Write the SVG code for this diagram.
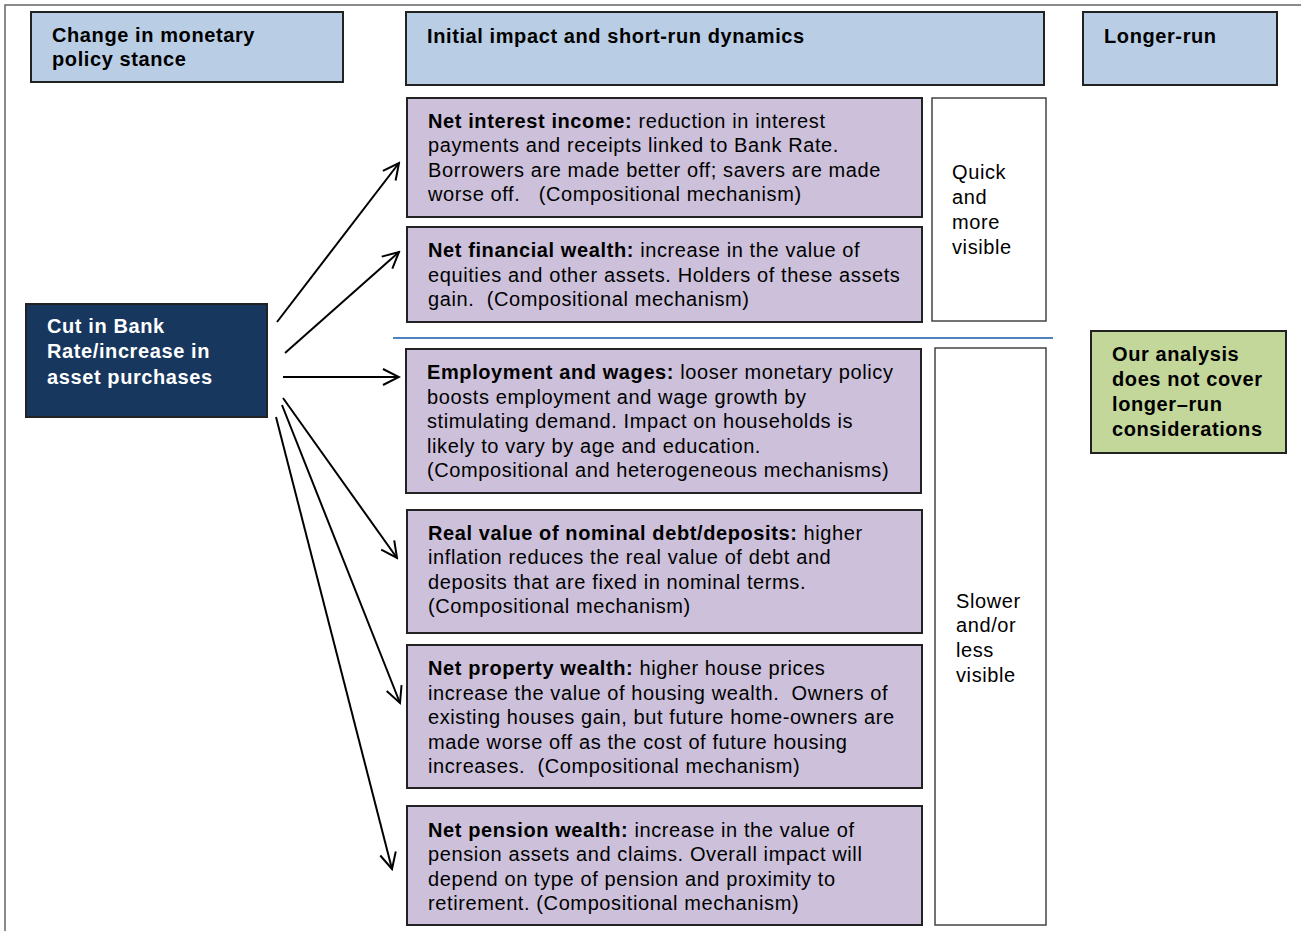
<svg xmlns="http://www.w3.org/2000/svg" width="1301" height="931" viewBox="0 0 1301 931">
<defs>
<style>
.t{font-family:"Liberation Sans",Arial,sans-serif;font-size:20px;letter-spacing:0.6px;fill:#000;white-space:pre}
.b{font-weight:bold}
.w{fill:#fff}
.hdr{fill:#b9cde5;stroke:#222;stroke-width:2}
.pur{fill:#ccc0da;stroke:#222;stroke-width:2}
.wht{fill:#fff;stroke:#444;stroke-width:1.5}
.con line{stroke:#000;stroke-width:2;fill:none;marker-end:url(#ah)}
</style>
<marker id="ah" viewBox="0 0 20 20" refX="18" refY="10" markerWidth="20" markerHeight="20" markerUnits="userSpaceOnUse" orient="auto">
<path d="M2,2 L18,10 L2,18" fill="none" stroke="#000" stroke-width="2"/>
</marker>
</defs>
<rect width="1301" height="931" fill="#fff"/>
<path d="M5,931 V5 H1301" fill="none" stroke="#666" stroke-width="1.5"/>

<g id="hdr-change"><rect class="hdr" x="31" y="12" width="312" height="70"/>
<text class="t b" x="52" y="42">Change in monetary</text><text class="t b" x="52" y="66">policy stance</text></g>
<g id="hdr-initial"><rect class="hdr" x="406" y="12" width="638" height="73"/>
<text class="t b" x="427" y="43">Initial impact and short-run dynamics</text></g>
<g id="hdr-longer"><rect class="hdr" x="1083" y="12" width="194" height="73"/>
<text class="t b" x="1104" y="43">Longer-run</text></g>

<g id="cut"><rect x="26" y="304" width="241" height="113" fill="#17375e" stroke="#222" stroke-width="2"/>
<text class="t b w" x="47" y="333">Cut in Bank</text>
<text class="t b w" x="47" y="358">Rate/increase in</text>
<text class="t b w" x="47" y="384">asset purchases</text></g>

<g id="nii"><rect class="pur" x="407" y="98" width="515" height="119"/>
<text class="t" x="428" y="128"><tspan class="b">Net interest income:</tspan> reduction in interest</text>
<text class="t" x="428" y="152">payments and receipts linked to Bank Rate.</text>
<text class="t" x="428" y="177">Borrowers are made better off; savers are made</text>
<text class="t" x="428" y="201">worse off.   (Compositional mechanism)</text></g>

<g id="nfw"><rect class="pur" x="407" y="227" width="515" height="95"/>
<text class="t" x="428" y="257"><tspan class="b">Net financial wealth:</tspan> increase in the value of</text>
<text class="t" x="428" y="282">equities and other assets. Holders of these assets</text>
<text class="t" x="428" y="306">gain.  (Compositional mechanism)</text></g>

<g id="quick"><rect class="wht" x="932" y="98" width="114" height="223"/>
<text class="t" x="952" y="179">Quick</text><text class="t" x="952" y="204">and</text>
<text class="t" x="952" y="229">more</text><text class="t" x="952" y="254">visible</text></g>

<line id="divider" x1="393" y1="338" x2="1053" y2="338" stroke="#4f81bd" stroke-width="2"/>

<g id="emp"><rect class="pur" x="406" y="349" width="515" height="144"/>
<text class="t" x="427" y="379"><tspan class="b">Employment and wages:</tspan> looser monetary policy</text>
<text class="t" x="427" y="404">boosts employment and wage growth by</text>
<text class="t" x="427" y="428">stimulating demand. Impact on households is</text>
<text class="t" x="427" y="453">likely to vary by age and education.</text>
<text class="t" x="427" y="477">(Compositional and heterogeneous mechanisms)</text></g>

<g id="real"><rect class="pur" x="407" y="510" width="515" height="123"/>
<text class="t" x="428" y="540"><tspan class="b">Real value of nominal debt/deposits:</tspan> higher</text>
<text class="t" x="428" y="564">inflation reduces the real value of debt and</text>
<text class="t" x="428" y="589">deposits that are fixed in nominal terms.</text>
<text class="t" x="428" y="613">(Compositional mechanism)</text></g>

<g id="prop"><rect class="pur" x="407" y="645" width="515" height="143"/>
<text class="t" x="428" y="675"><tspan class="b">Net property wealth:</tspan> higher house prices</text>
<text class="t" x="428" y="700">increase the value of housing wealth.  Owners of</text>
<text class="t" x="428" y="724">existing houses gain, but future home-owners are</text>
<text class="t" x="428" y="749">made worse off as the cost of future housing</text>
<text class="t" x="428" y="773">increases.  (Compositional mechanism)</text></g>

<g id="pens"><rect class="pur" x="407" y="806" width="515" height="119"/>
<text class="t" x="428" y="837"><tspan class="b">Net pension wealth:</tspan> increase in the value of</text>
<text class="t" x="428" y="861">pension assets and claims. Overall impact will</text>
<text class="t" x="428" y="886">depend on type of pension and proximity to</text>
<text class="t" x="428" y="910">retirement. (Compositional mechanism)</text></g>

<g id="slower"><rect class="wht" x="935" y="348" width="111" height="577"/>
<text class="t" x="956" y="608">Slower</text><text class="t" x="956" y="632">and/or</text>
<text class="t" x="956" y="657">less</text><text class="t" x="956" y="682">visible</text></g>

<g id="green"><rect x="1091" y="331" width="195" height="122" fill="#c4d79b" stroke="#222" stroke-width="2"/>
<text class="t b" x="1112" y="361">Our analysis</text>
<text class="t b" x="1112" y="386">does not cover</text>
<text class="t b" x="1112" y="411">longer–run</text>
<text class="t b" x="1112" y="436">considerations</text></g>

<g id="connectors" class="con">
<line x1="277" y1="322" x2="399" y2="163"/>
<line x1="285" y1="353" x2="399" y2="252"/>
<line x1="283" y1="377" x2="399" y2="377"/>
<line x1="283" y1="398" x2="397" y2="558"/>
<line x1="282" y1="405" x2="400" y2="703"/>
<line x1="276" y1="417" x2="392" y2="869"/>
</g>
</svg>
